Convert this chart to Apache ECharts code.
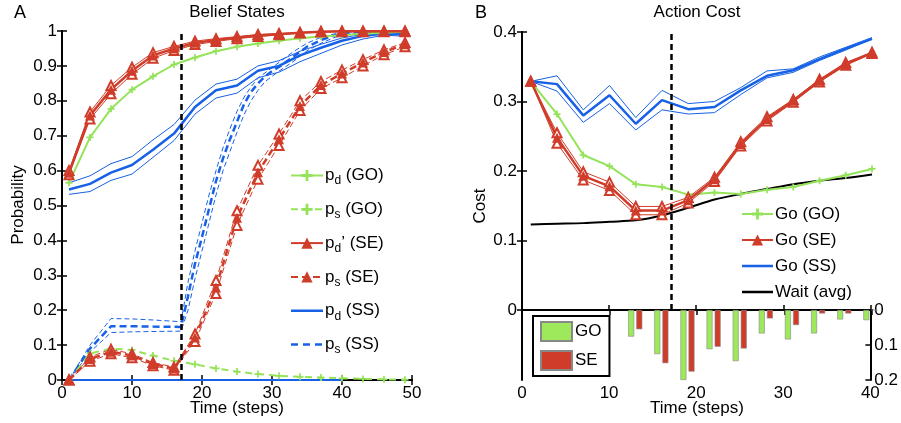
<!DOCTYPE html>
<html>
<head>
<meta charset="utf-8">
<script src="https://cdn.jsdelivr.net/npm/echarts@6/dist/echarts.min.js"></script>
<style>html,body{margin:0;padding:0;background:#fff}#c{width:901px;height:423px}</style>
</head>
<body>
<div id="c"></div>
<script>
// ---------- Panel A data ----------
const stepsA = [1,4,7,10,13,16,19,22,25,28,31,34,37,40,43,46,49];
const pdGO = [0.565,0.695,0.777,0.832,0.870,0.904,0.924,0.942,0.955,0.964,0.972,0.979,0.984,0.988,0.992,0.995,0.998];
const psGO = [0,0.076,0.090,0.086,0.070,0.055,0.045,0.033,0.024,0.017,0.012,0.009,0.007,0.005,0.003,0.002,0.001];
const pdSEmid = [0.594,0.758,0.832,0.886,0.930,0.950,0.966,0.974,0.981,0.987,0.991,0.995,0.998,0.999,0.999,0.999,0.999];
const pdSEhi  = [0.600,0.768,0.844,0.896,0.938,0.956,0.971,0.978,0.984,0.990,0.993,0.996,0.999,1.000,1.000,1.000,1.000];
const pdSElo  = [0.588,0.748,0.820,0.876,0.922,0.944,0.961,0.970,0.978,0.984,0.989,0.994,0.997,0.998,0.998,0.998,0.998];
const psSEmid = [0,0.060,0.081,0.070,0.046,0.033,0.122,0.265,0.465,0.595,0.690,0.785,0.845,0.878,0.910,0.940,0.962];
const psSEhi  = [0,0.066,0.088,0.075,0.050,0.037,0.132,0.285,0.485,0.615,0.705,0.800,0.855,0.888,0.918,0.946,0.967];
const psSElo  = [0,0.054,0.075,0.064,0.041,0.028,0.110,0.248,0.443,0.575,0.672,0.772,0.835,0.866,0.900,0.932,0.955];
const pdSSmid = [0.546,0.562,0.594,0.616,0.660,0.706,0.782,0.830,0.844,0.886,0.900,0.930,0.952,0.972,0.986,0.993,0.990];
const pdSShi  = [0.565,0.585,0.620,0.640,0.688,0.732,0.802,0.848,0.862,0.900,0.915,0.942,0.962,0.980,0.991,0.996,0.994];
const pdSSlo  = [0.532,0.540,0.572,0.590,0.638,0.686,0.762,0.808,0.822,0.866,0.882,0.912,0.936,0.960,0.977,0.988,0.985];
const stepsPsSS = [1,4,7,10,13,17,18,19,20,21,22,23,24,25,26,27,28,29,30,31,33,35,37,39,41,44,47,49];
const psSSmid = [0,0.090,0.154,0.154,0.153,0.152,0.240,0.333,0.410,0.490,0.570,0.635,0.690,0.740,0.790,0.825,0.850,0.870,0.885,0.897,0.926,0.955,0.974,0.988,0.995,0.998,0.995,0.990];
const psSShi  = [0,0.100,0.176,0.175,0.172,0.167,0.280,0.370,0.450,0.530,0.600,0.665,0.720,0.770,0.810,0.840,0.865,0.880,0.895,0.910,0.940,0.965,0.982,0.992,0.997,0.999,0.997,0.993];
const psSSlo  = [0,0.080,0.136,0.138,0.139,0.140,0.200,0.290,0.370,0.450,0.530,0.600,0.655,0.710,0.760,0.800,0.830,0.855,0.870,0.885,0.912,0.943,0.965,0.982,0.990,0.995,0.993,0.987];
const stepsSSzero = [1,40];
const ssZero = [0,0];
const ticksA_x = {min:0,max:50,interval:10};
const ticksA_y = {min:0,max:1,interval:0.1};

// ---------- Panel B data ----------
const stepsB = [1,4,7,10,13,16,19,22,25,28,31,34,37,40];
const goGO   = [0.329,0.282,0.223,0.207,0.181,0.177,0.166,0.169,0.167,0.173,0.177,0.186,0.194,0.203];
const goSEmid= [0.329,0.248,0.193,0.178,0.143,0.143,0.158,0.188,0.239,0.275,0.301,0.330,0.354,0.370];
const goSEhi = [0.329,0.255,0.199,0.184,0.149,0.149,0.162,0.191,0.242,0.278,0.303,0.332,0.356,0.371];
const goSElo = [0.329,0.240,0.187,0.172,0.137,0.137,0.154,0.185,0.236,0.272,0.299,0.328,0.352,0.369];
const goSSmid= [0.329,0.325,0.280,0.309,0.268,0.302,0.289,0.292,0.316,0.337,0.345,0.361,0.376,0.390];
const goSShi = [0.329,0.337,0.288,0.323,0.277,0.316,0.297,0.300,0.320,0.344,0.347,0.364,0.378,0.392];
const goSSlo = [0.329,0.315,0.270,0.297,0.259,0.288,0.282,0.284,0.310,0.334,0.342,0.359,0.374,0.390];
const waitAvg= [0.123,0.124,0.125,0.127,0.129,0.136,0.147,0.159,0.167,0.174,0.181,0.186,0.190,0.195];
const barSteps = [13,16,19,22,25,28,31,34,37,40];
const barGO = [0.076,0.126,0.200,0.112,0.146,0.067,0.084,0.067,0.027,0.029];
const barSE = [0.055,0.152,0.176,0.105,0.110,0.024,0.043,0.010,0.010,0];
const switchStep = 17;

// ---------- styling ----------
const FONT = 'Liberation Sans, Arial, Helvetica, sans-serif';
const GREEN = '#95e35a', GREENBAR = '#9ee85c', RED = '#d03c2a', BLUE = '#1761e6';
const PLUS = 'path://M3,0H5V3H8V5H5V8H3V5H0V3H3Z';
// legend icons: tiny corner dots fix the bounding box so the bar stays thin
const ICON_SOLID = 'path://M0,0H0.01V0.01H0Z M0,5.8H32V8.2H0Z M0,14H0.01V14.01H0Z';
const ICON_DASH = 'path://M0,0H0.01V0.01H0Z M0,5.8H7V8.2H0Z M12,5.8H19V8.2H12Z M24,5.8H31V8.2H24Z M32,14H32.01V14.01H32Z';
const zip = (xs, ys) => xs.map((x, i) => [x, ys[i]]);

function axisBase(extra) {
  return Object.assign({
    type: 'value',
    axisLine: {show: true, lineStyle: {color: '#000', width: 2}},
    axisTick: {show: true, inside: true, length: 5, lineStyle: {color: '#000', width: 1.5}},
    splitLine: {show: false},
    axisLabel: {show: false, color: '#000', fontSize: 17, fontFamily: FONT}
  }, extra);
}
function lbl(margin) { return {show: true, color: '#000', fontSize: 17, fontFamily: FONT, margin: margin}; }

function lineS(name, xs, ys, o) {
  return Object.assign({
    type: 'line', name: name, data: zip(xs, ys),
    xAxisIndex: 0, yAxisIndex: 0, symbol: 'none', silent: true,
    lineStyle: {width: 1}, z: 3
  }, o);
}

const series = [];
// Panel A
series.push(lineS('psSSlo', stepsPsSS, psSSlo, {lineStyle: {color: BLUE, width: 1, type: [5,3]}, itemStyle: {color: BLUE}}));
series.push(lineS('psSShi', stepsPsSS, psSShi, {lineStyle: {color: BLUE, width: 1, type: [5,3]}, itemStyle: {color: BLUE}}));
series.push(lineS('ps (SS)', stepsPsSS, psSSmid, {lineStyle: {color: BLUE, width: 2.5, type: [7,4]}, itemStyle: {color: BLUE}}));
series.push(lineS('pdSSlo', stepsA, pdSSlo, {lineStyle: {color: BLUE, width: 1}, itemStyle: {color: BLUE}}));
series.push(lineS('pdSShi', stepsA, pdSShi, {lineStyle: {color: BLUE, width: 1}, itemStyle: {color: BLUE}}));
series.push(lineS('pd (SS)', stepsA, pdSSmid, {lineStyle: {color: BLUE, width: 2.5}, itemStyle: {color: BLUE}}));
series.push(lineS('ssZero', stepsSSzero, ssZero, {lineStyle: {color: BLUE, width: 2}, itemStyle: {color: BLUE}}));
series.push(lineS('ps (GO)', stepsA, psGO, {symbol: PLUS, symbolSize: 7, lineStyle: {color: GREEN, width: 2, type: [7,5]}, itemStyle: {color: GREEN}}));
series.push(lineS('pd (GO)', stepsA, pdGO, {symbol: PLUS, symbolSize: 7, lineStyle: {color: GREEN, width: 2}, itemStyle: {color: GREEN},
  markLine: {silent: true, symbol: 'none', label: {show: false}, lineStyle: {color: '#000', width: 2.5, type: [6,4]}, data: [{xAxis: switchStep}]}}));
series.push(lineS('psSElo', stepsA, psSElo, {symbol: 'emptyTriangle', symbolSize: 9, lineStyle: {color: RED, width: 1, type: [6,3]}, itemStyle: {color: RED, borderColor: RED}}));
series.push(lineS('psSEhi', stepsA, psSEhi, {symbol: 'emptyTriangle', symbolSize: 9, lineStyle: {color: RED, width: 1, type: [6,3]}, itemStyle: {color: RED, borderColor: RED}}));
series.push(lineS('ps (SE)', stepsA, psSEmid, {symbol: 'triangle', symbolSize: 10, lineStyle: {color: RED, width: 2.5, type: [7,4]}, itemStyle: {color: RED}}));
series.push(lineS('pdSElo', stepsA, pdSElo, {symbol: 'emptyTriangle', symbolSize: 9, lineStyle: {color: RED, width: 1}, itemStyle: {color: RED, borderColor: RED}}));
series.push(lineS('pdSEhi', stepsA, pdSEhi, {symbol: 'emptyTriangle', symbolSize: 9, lineStyle: {color: RED, width: 1}, itemStyle: {color: RED, borderColor: RED}}));
series.push(lineS("pd' (SE)", stepsA, pdSEmid, {symbol: 'triangle', symbolSize: 10, lineStyle: {color: RED, width: 2.5}, itemStyle: {color: RED}}));

// Panel B upper
const B = {xAxisIndex: 2, yAxisIndex: 2};
series.push(lineS('goSSlo', stepsB, goSSlo, Object.assign({lineStyle: {color: BLUE, width: 1}, itemStyle: {color: BLUE}}, B)));
series.push(lineS('goSShi', stepsB, goSShi, Object.assign({lineStyle: {color: BLUE, width: 1}, itemStyle: {color: BLUE}}, B)));
series.push(lineS('Go (SS)', stepsB, goSSmid, Object.assign({lineStyle: {color: BLUE, width: 2.5}, itemStyle: {color: BLUE}}, B)));
series.push(lineS('Wait (avg)', stepsB, waitAvg, Object.assign({smooth: 0.3, lineStyle: {color: '#000', width: 2}, itemStyle: {color: '#000'}}, B)));
series.push(lineS('Go (GO)', stepsB, goGO, Object.assign({symbol: PLUS, symbolSize: 7, lineStyle: {color: GREEN, width: 2}, itemStyle: {color: GREEN},
  markLine: {silent: true, symbol: 'none', label: {show: false}, lineStyle: {color: '#000', width: 2.5, type: [6,4]}, data: [{xAxis: switchStep}]}}, B)));
series.push(lineS('goSElo', stepsB, goSElo, Object.assign({symbol: 'emptyTriangle', symbolSize: 9, lineStyle: {color: RED, width: 1}, itemStyle: {color: RED, borderColor: RED}}, B)));
series.push(lineS('goSEhi', stepsB, goSEhi, Object.assign({symbol: 'emptyTriangle', symbolSize: 9, lineStyle: {color: RED, width: 1}, itemStyle: {color: RED, borderColor: RED}}, B)));
series.push(lineS('Go (SE)', stepsB, goSEmid, Object.assign({symbol: 'triangle', symbolSize: 10, lineStyle: {color: RED, width: 2.5}, itemStyle: {color: RED}}, B)));

// Panel B lower bars
series.push({type: 'bar', name: 'GO', data: zip(barSteps, barGO), xAxisIndex: 4, yAxisIndex: 5, barWidth: 6, barGap: '35%', silent: true,
  itemStyle: {color: GREENBAR, borderColor: '#888', borderWidth: 0.6}});
series.push({type: 'bar', name: 'SE', data: zip(barSteps, barSE), xAxisIndex: 4, yAxisIndex: 5, barWidth: 6, barGap: '35%', silent: true,
  itemStyle: {color: RED, borderColor: '#888', borderWidth: 0.6}});

const subLabels = {
  'pd (GO)': '{p|p}{s|d}{p| (GO)}',
  'ps (GO)': '{p|p}{s|s}{p| (GO)}',
  "pd' (SE)": '{p|p}{s|d}{p|\u2019 (SE)}',
  'ps (SE)': '{p|p}{s|s}{p| (SE)}',
  'pd (SS)': '{p|p}{s|d}{p| (SS)}',
  'ps (SS)': '{p|p}{s|s}{p| (SS)}'
};

const txt = (x, y, text, rot) => ({type: 'text', x: x, y: y, rotation: rot || 0, silent: true,
  style: {text: text, fontSize: 17, fontFamily: FONT, fontWeight: 'normal', fill: '#000', align: 'center', verticalAlign: 'middle'}});

const option = {
  animation: false,
  backgroundColor: '#fff',
  textStyle: {fontFamily: FONT},
  grid: [
    {left: 62, top: 31, width: 350, height: 349},
    {left: 522, top: 32, width: 350, height: 278},
    {left: 522, top: 310, width: 350, height: 70}
  ],
  xAxis: [
    axisBase(Object.assign({gridIndex: 0, position: 'bottom', axisLabel: lbl(5)}, ticksA_x)),
    axisBase(Object.assign({gridIndex: 0, position: 'top'}, ticksA_x)),
    axisBase({gridIndex: 1, position: 'bottom', min: 0, max: 40, interval: 10, axisTick: {show: false}}),
    axisBase({gridIndex: 1, position: 'top', min: 0, max: 40, interval: 10}),
    axisBase({gridIndex: 2, position: 'bottom', min: 0, max: 40, interval: 10, axisLabel: lbl(5)})
  ],
  yAxis: [
    axisBase(Object.assign({gridIndex: 0, position: 'left', axisLabel: lbl(5)}, ticksA_y)),
    axisBase(Object.assign({gridIndex: 0, position: 'right'}, ticksA_y)),
    axisBase({gridIndex: 1, position: 'left', min: 0, max: 0.4, interval: 0.1, axisLabel: lbl(5)}),
    axisBase({gridIndex: 1, position: 'right', min: 0, max: 0.4, interval: 0.1}),
    axisBase({gridIndex: 2, position: 'left', min: 0, max: 0.2, interval: 0.1, inverse: true, axisTick: {show: false}}),
    axisBase({gridIndex: 2, position: 'right', min: 0, max: 0.2, interval: 0.1, inverse: true, axisLabel: lbl(4)})
  ],
  legend: [
    {
      data: ['pd (GO)', 'ps (GO)', "pd' (SE)", 'ps (SE)', {name: 'pd (SS)', icon: ICON_SOLID}, {name: 'ps (SS)', icon: ICON_DASH}],
      orient: 'vertical', left: 290, top: 164, itemWidth: 32, itemHeight: 14, itemGap: 10.8, padding: 0,
      selectedMode: false,
      formatter: n => subLabels[n],
      textStyle: {color: '#000', fontFamily: FONT, padding: [0,0,0,-3], rich: {
        p: {fontSize: 17, fontFamily: FONT, color: '#000', lineHeight: 25},
        s: {fontSize: 12, fontFamily: FONT, color: '#000', lineHeight: 14, padding: [11,0,0,0]}
      }}
    },
    {
      data: ['Go (GO)', 'Go (SE)', {name: 'Go (SS)', icon: ICON_SOLID}, {name: 'Wait (avg)', icon: ICON_SOLID}],
      orient: 'vertical', left: 741, top: 204, itemWidth: 31, itemHeight: 14, itemGap: 6, padding: 0,
      selectedMode: false,
      textStyle: {color: '#000', fontSize: 17, fontFamily: FONT, lineHeight: 20, padding: [0,0,0,-3]}
    },
    {
      data: ['GO', 'SE'], icon: 'rect',
      orient: 'vertical', left: 533, top: 316, itemWidth: 31, itemHeight: 19, itemGap: 8,
      padding: [5, 8, 5, 7], borderColor: '#000', borderWidth: 2, backgroundColor: '#fff',
      selectedMode: false,
      textStyle: {color: '#000', fontSize: 17, fontFamily: FONT, padding: [0,0,0,-2]}
    }
  ],
  graphic: [
    {type: 'text', left: 14, top: 4, silent: true, style: {text: 'A', fontSize: 18, fontFamily: FONT, fill: '#000'}},
    {type: 'text', left: 475, top: 4, silent: true, style: {text: 'B', fontSize: 18, fontFamily: FONT, fill: '#000'}},
    txt(237, 12, 'Belief States'),
    txt(697, 12, 'Action Cost'),
    txt(18, 205, 'Probability', Math.PI / 2),
    txt(480, 206, 'Cost', Math.PI / 2),
    txt(237, 408, 'Time (steps)'),
    txt(697, 408, 'Time (steps)')
  ],
  series: series
};

const chart = echarts.init(document.getElementById('c'), null, {renderer: 'canvas'});
chart.setOption(option);
</script>
</body>
</html>
